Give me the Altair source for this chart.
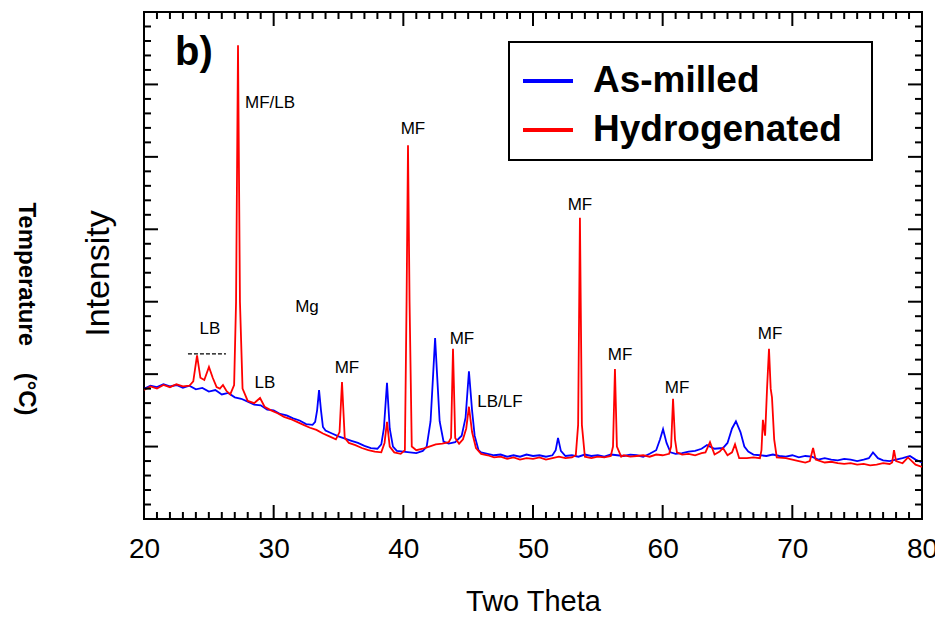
import altair as alt
import pandas as pd

# ---------------- data ----------------
TT_AM = [20.0, 20.5, 21.0, 21.5, 22.0, 22.5, 23.0, 23.5, 24.0, 24.5, 25.0, 25.5, 26.0, 26.5,
         27.0, 27.5, 28.0, 28.5, 29.0, 29.5, 30.0, 30.5, 31.0, 31.5, 32.0, 32.5, 33.0, 33.2,
         33.35, 33.5, 33.65, 33.8, 34.0, 34.5, 35.0, 35.5, 36.0, 36.5, 37.0, 37.5, 38.0, 38.3,
         38.5, 38.74, 38.95, 39.2, 39.5, 40.0, 40.5, 41.0, 41.5, 41.8, 42.1, 42.3, 42.45, 42.6,
         42.8, 43.1, 43.5, 44.0, 44.5, 44.8, 45.06, 45.3, 45.5, 45.8, 46.0, 46.5, 47.0, 47.5,
         48.0, 48.5, 49.0, 49.5, 50.0, 50.5, 51.0, 51.5, 51.75, 51.93, 52.15, 52.5, 53.0, 53.5,
         54.0, 54.5, 55.0, 55.5, 56.0, 56.5, 57.0, 57.5, 58.0, 58.5, 59.0, 59.5, 59.8, 60.03,
         60.3, 60.6, 61.0, 61.5, 62.0, 62.5, 63.0, 63.42, 64.0, 64.65, 65.0, 65.35, 65.65, 66.0,
         66.3, 66.6, 67.0, 67.5, 68.0, 68.5, 69.0, 69.5, 70.0, 70.5, 71.0, 71.5, 72.0, 72.5,
         73.0, 73.5, 74.0, 74.5, 75.0, 75.5, 75.9, 76.22, 76.6, 77.0, 77.5, 78.0, 78.5, 79.07,
         79.5, 80.0]
I_AM = [180, 184, 182, 186, 183, 185, 181, 184, 179, 181, 176, 178, 172, 174,
        168, 166, 162, 158, 157, 151, 150, 145, 143, 139, 136, 131, 130, 134,
        150, 178, 150, 127, 122, 118, 114, 111, 108, 105, 101, 98, 97, 103,
        125, 188, 125, 100, 94, 93, 92, 91, 94, 100, 135, 200, 250, 200,
        135, 107, 104, 106, 115, 140, 204, 150, 115, 95, 92, 90, 88, 89,
        86, 88, 86, 89, 87, 88, 86, 88, 95, 112, 94, 87, 88, 86,
        89, 87, 88, 86, 89, 88, 87, 89, 88, 86, 90, 95, 110, 124,
        105, 92, 90, 91, 93, 94, 97, 102, 97, 98, 105, 125, 135, 120,
        100, 93, 89, 88, 87, 89, 87, 86, 88, 85, 87, 86, 82, 84,
        82, 81, 83, 82, 80, 82, 84, 92, 84, 81, 80, 82, 84, 87,
        82, 78]

TT_HY = [20.0, 20.5, 21.0, 21.5, 22.0, 22.5, 23.0, 23.5, 23.8, 24.09, 24.35, 24.65, 25.01, 25.3,
         25.6, 25.85, 26.09, 26.35, 26.65, 26.95, 27.1, 27.25, 27.4, 27.6, 28.0, 28.5, 28.95, 29.3,
         29.8, 30.3, 30.8, 31.3, 31.8, 32.3, 32.8, 33.3, 33.8, 34.3, 34.8, 35.08, 35.27, 35.48,
         35.8, 36.3, 36.8, 37.3, 37.8, 38.3, 38.55, 38.74, 38.95, 39.3, 39.8, 40.12, 40.25, 40.36,
         40.48, 40.65, 41.0, 41.5, 42.0, 42.5, 43.0, 43.5, 43.68, 43.83, 44.0, 44.3, 44.6, 44.85,
         45.06, 45.3, 45.6, 46.0, 46.5, 47.0, 47.5, 48.0, 48.5, 49.0, 49.5, 50.0, 50.5, 51.0,
         51.5, 52.0, 52.5, 53.0, 53.3, 53.48, 53.62, 53.77, 54.0, 54.5, 55.0, 55.5, 56.0, 56.17,
         56.32, 56.47, 56.8, 57.0, 57.5, 58.0, 58.5, 59.0, 59.5, 60.0, 60.5, 60.65, 60.8, 60.95,
         61.1, 61.5, 62.0, 62.5, 63.0, 63.3, 63.65, 64.0, 64.4, 64.65, 65.0, 65.35, 65.58, 65.9,
         66.5, 67.0, 67.5, 67.62, 67.73, 67.9, 68.05, 68.2, 68.33, 68.43, 68.6, 68.8, 69.5, 70.0,
         70.5, 71.0, 71.35, 71.6, 71.8, 72.5, 73.0, 73.5, 74.0, 74.5, 75.0, 75.5, 76.0, 76.5,
         77.0, 77.5, 77.7, 77.84, 78.0, 78.5, 78.92, 79.5, 80.0]
I_HY = [178, 183, 180, 185, 182, 186, 183, 184, 190, 226, 195, 192, 210, 195,
        182, 180, 185, 177, 172, 185, 300, 654, 300, 180, 163, 160, 167, 155,
        150, 146, 141, 138, 134, 130, 126, 123, 118, 114, 110, 120, 189, 112,
        105, 102, 98, 95, 93, 92, 105, 134, 100, 92, 90, 95, 300, 516,
        300, 100, 95, 97, 100, 103, 104, 106, 112, 235, 112, 104, 110, 125,
        155, 120, 98, 90, 88, 85, 86, 83, 85, 82, 84, 83, 85, 82,
        84, 86, 84, 85, 88, 130, 416, 130, 86, 84, 86, 85, 87, 100,
        207, 100, 86, 88, 86, 87, 88, 86, 89, 88, 90, 100, 166, 110,
        92, 89, 90, 88, 91, 92, 106, 89, 93, 98, 88, 92, 103, 84,
        84, 85, 84, 95, 137, 115, 180, 235, 180, 168, 110, 85, 84, 82,
        80, 78, 80, 98, 82, 78, 79, 77, 76, 77, 75, 76, 74, 75,
        77, 76, 78, 95, 80, 77, 85, 75, 72]

SERIES = ["As-milled", "Hydrogenated"]
COLORS = ["#0000ff", "#ff0000"]

ANN_TEXT = ["MF/LB", "MF", "MF", "Mg", "LB", "LB", "MF", "MF", "LB/LF", "MF", "MF", "MF"]
ANN_X = [29.72, 40.74, 53.62, 32.57, 25.09, 29.33, 35.65, 44.52, 47.45, 56.71, 61.11, 68.28]
ANN_Y = [574, 538, 434, 293, 262, 188, 209, 249, 162, 226, 181, 255]

DASH_X = [23.39]
DASH_X2 = [26.32]
DASH_Y = [228]

PANEL_LABEL = "b)"
PANEL_X = [22.39]
PANEL_Y = [627]

X_LABELS = [20, 30, 40, 50, 60, 70, 80]
X_TITLE = "Two Theta"
Y_TITLE = "Intensity"
Y_TITLE2 = "Temperature\u00a0\u00a0\u00a0\u00a0(°C)"

XMIN, XMAX = 20, 80
YMIN, YMAX = 0, 700

# ---------------- tables ----------------
lines = pd.concat([
    pd.DataFrame({"tt": TT_AM, "I": I_AM, "s": SERIES[0]}),
    pd.DataFrame({"tt": TT_HY, "I": I_HY, "s": SERIES[1]}),
], ignore_index=True)

xs = alt.Scale(domain=[XMIN, XMAX], nice=False, zero=False)
ys = alt.Scale(domain=[YMIN, YMAX], nice=False, zero=False)

# tick marks drawn inward on all four sides
px_x = 778 / (XMAX - XMIN)
px_y = 507 / (YMAX - YMIN)
L_MAJ, L_MIN = 14, 7
rows = []
for v in range(XMIN, XMAX + 1):
    L = L_MAJ if v % 10 == 0 else L_MIN
    rows.append(dict(tt=v, x2=v, I=YMIN, y2=YMIN + L / px_y))
    rows.append(dict(tt=v, x2=v, I=YMAX - L / px_y, y2=YMAX))
for v in range(YMIN, YMAX + 1, 20):
    L = L_MAJ if v % 100 == 0 else L_MIN
    rows.append(dict(tt=XMIN, x2=XMIN + L / px_x, I=v, y2=v))
    rows.append(dict(tt=XMAX - L / px_x, x2=XMAX, I=v, y2=v))
ticks = pd.DataFrame(rows)

FONT = "Liberation Sans"

XENC = alt.X("tt:Q", scale=xs, axis=alt.Axis(
    values=X_LABELS, format="d", grid=False, ticks=False, tickSize=0, domain=False,
    labelFlush=False,
    labelFont=FONT, labelFontSize=28, labelColor="black", labelPadding=16,
    title=X_TITLE, titleFont=FONT, titleFontSize=29, titleFontWeight="normal",
    titleColor="black", titlePadding=24))
YENC = alt.Y("I:Q", scale=ys, axis=alt.Axis(
    labels=False, grid=False, ticks=False, tickSize=0, domain=False,
    title=Y_TITLE, titleFont=FONT, titleFontSize=34, titleFontWeight="normal",
    titleColor="black", titlePadding=29, titleY=261))

line_layer = alt.Chart(lines).mark_line(strokeWidth=1.8, clip=True).encode(
    x=XENC,
    y=YENC,
    color=alt.Color("s:N", scale=alt.Scale(domain=SERIES, range=COLORS), legend=alt.Legend(
        orient="none", legendX=365, legendY=30,
        title=".", titleColor="white", titleOrient="right", titlePadding=15, titleFontSize=10,
        symbolType="stroke", symbolSize=2500, symbolStrokeWidth=4,
        labelFont=FONT, labelFontSize=37, labelFontWeight="bold", labelColor="black",
        labelOffset=18, labelLimit=400, rowPadding=4, padding=12,
        strokeColor="black")),
    order=alt.Order("tt:Q"),
)

tick_layer = alt.Chart(ticks).mark_rule(color="black", strokeWidth=2).encode(
    x=XENC, x2="x2:Q", y=YENC, y2="y2:Q",
)

ann = pd.DataFrame({"t": ANN_TEXT, "tt": ANN_X, "I": ANN_Y})
ann_layer = alt.Chart(ann).mark_text(
    font=FONT, fontSize=17, color="black", align="center", baseline="middle"
).encode(x=XENC, y=YENC, text="t:N")

dash = pd.DataFrame({"tt": DASH_X, "x2": DASH_X2, "I": DASH_Y})
dash_layer = alt.Chart(dash).mark_rule(color="black", strokeWidth=1.3, strokeDash=[4, 2]).encode(
    x=XENC, x2="x2:Q", y=YENC)

panel = pd.DataFrame({"t": [PANEL_LABEL], "tt": PANEL_X, "I": PANEL_Y})
panel_layer = alt.Chart(panel).mark_text(
    font=FONT, fontSize=40, fontWeight="bold", color="black", align="left", baseline="alphabetic"
).encode(x=XENC, y=YENC, text="t:N")

temp = pd.DataFrame({"t": [Y_TITLE2]})
temp_layer = alt.Chart(temp).mark_text(
    font=FONT, fontSize=24, fontWeight="bold", color="black", align="center",
    baseline="middle", angle=90
).encode(x=alt.value(-118), y=alt.value(297), text="t:N")

chart = alt.layer(
    line_layer, tick_layer, ann_layer, dash_layer, panel_layer, temp_layer
).properties(
    width=778, height=507,
    autosize=alt.AutoSizeParams(type="none"),
    padding={"left": 144, "top": 12, "right": 13, "bottom": 98},
    background="white",
).configure_view(
    stroke="black", strokeWidth=2
).configure_legend(
    strokeWidth=2
)

chart.save("out.html", embed_options={"renderer": "svg", "actions": False})
